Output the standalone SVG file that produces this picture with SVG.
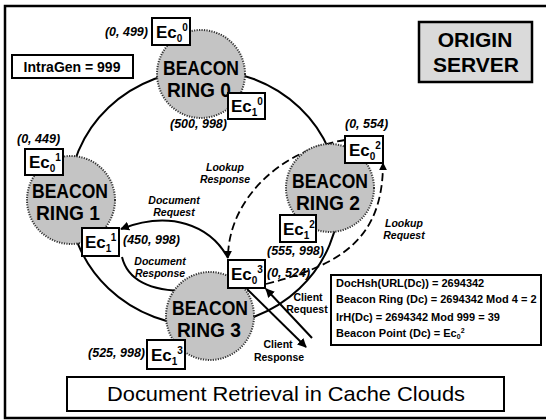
<svg xmlns="http://www.w3.org/2000/svg" width="546" height="420" viewBox="0 0 546 420">
<defs>
<style>
.frame{fill:#fff;stroke:#000;stroke-width:2.5}
.box{fill:#fff;stroke:#000;stroke-width:2}
.ring{fill:#c4c4c4;stroke:#333;stroke-width:2;stroke-dasharray:1.2 1.3}
.big{fill:none;stroke:#000;stroke-width:2}
.sol{fill:none;stroke:#000;stroke-width:2}
.dash{fill:none;stroke:#000;stroke-width:1.8;stroke-dasharray:8 4}
.ec{font-family:"Liberation Sans",Arial,sans-serif;font-weight:bold;font-size:17px}
.ecs{font-size:10px}
.rt{font-family:"Liberation Sans",Arial,sans-serif;font-size:20px;font-weight:bold;text-anchor:middle}
.co{font-family:"Liberation Sans",Arial,sans-serif;font-weight:bold;font-style:italic;font-size:12.5px}
.lab{font-family:"Liberation Sans",Arial,sans-serif;font-weight:bold;font-style:italic;font-size:10.5px;text-anchor:middle}
.labu{font-family:"Liberation Sans",Arial,sans-serif;font-weight:bold;font-size:10.5px;text-anchor:middle}
.info{font-family:"Liberation Sans",Arial,sans-serif;font-weight:bold;font-size:11px}
</style>
<marker id="ah" viewBox="0 0 10 10" refX="9" refY="5" markerWidth="4.5" markerHeight="4.5" orient="auto" markerUnits="strokeWidth">
<path d="M0,0 L10,5 L0,10 z" fill="#000"/>
</marker>
</defs>
<rect class="frame" x="5" y="6" width="545" height="412"/>

<g id="connectors">
<ellipse class="big" cx="204" cy="198" rx="135" ry="128"/>
<path class="dash" d="M345,140 C280,150 228,200 228,258" marker-end="url(#ah)"/>
<path class="dash" d="M266,284 C340,265 383,240 383,163" marker-end="url(#ah)"/>
<path class="sol" d="M228,258 C210,225 170,210 121,229" marker-end="url(#ah)"/>
<path class="sol" d="M122,257 C130,290 170,296 226,288" marker-end="url(#ah)"/>
<path class="sol" d="M247,289 L306,347" marker-end="url(#ah)"/>
<path class="sol" d="M312,338 L266,289" marker-end="url(#ah)"/>
</g>

<g id="ring0"><circle class="ring" cx="201" cy="74" r="44"/>
<text class="rt" x="201" y="75" textLength="76" lengthAdjust="spacingAndGlyphs">BEACON</text>
<text class="rt" x="199" y="97" textLength="64" lengthAdjust="spacingAndGlyphs">RING 0</text></g>
<g id="ring1"><circle class="ring" cx="71" cy="200" r="44"/>
<text class="rt" x="70" y="198" textLength="76" lengthAdjust="spacingAndGlyphs">BEACON</text>
<text class="rt" x="68" y="220" textLength="64" lengthAdjust="spacingAndGlyphs">RING 1</text></g>
<g id="ring2"><circle class="ring" cx="330" cy="188" r="44"/>
<text class="rt" x="330" y="188" textLength="76" lengthAdjust="spacingAndGlyphs">BEACON</text>
<text class="rt" x="328" y="210" textLength="64" lengthAdjust="spacingAndGlyphs">RING 2</text></g>
<g id="ring3"><circle class="ring" cx="210" cy="316" r="44"/>
<text class="rt" x="210" y="315" textLength="76" lengthAdjust="spacingAndGlyphs">BEACON</text>
<text class="rt" x="209" y="337" textLength="64" lengthAdjust="spacingAndGlyphs">RING 3</text></g>

<g id="ec00"><rect class="box" x="152" y="18" width="38" height="27"/><text class="ec" x="156" y="38">Ec<tspan class="ecs" dy="4">0</tspan><tspan class="ecs" dy="-11">0</tspan></text></g>
<g id="ec10"><rect class="box" x="228" y="93" width="37" height="26"/><text class="ec" x="231" y="112">Ec<tspan class="ecs" dy="4">1</tspan><tspan class="ecs" dy="-11">0</tspan></text></g>
<g id="ec01"><rect class="box" x="25" y="149" width="38" height="26"/><text class="ec" x="29" y="168">Ec<tspan class="ecs" dy="4">0</tspan><tspan class="ecs" dy="-11">1</tspan></text></g>
<g id="ec11"><rect class="box" x="82" y="228" width="37" height="28"/><text class="ec" x="85" y="248">Ec<tspan class="ecs" dy="4">1</tspan><tspan class="ecs" dy="-11">1</tspan></text></g>
<g id="ec02"><rect class="box" x="345" y="136" width="38" height="27"/><text class="ec" x="349" y="156">Ec<tspan class="ecs" dy="4">0</tspan><tspan class="ecs" dy="-11">2</tspan></text></g>
<g id="ec12"><rect class="box" x="280" y="215" width="36" height="27"/><text class="ec" x="283" y="235">Ec<tspan class="ecs" dy="4">1</tspan><tspan class="ecs" dy="-11">2</tspan></text></g>
<g id="ec03"><rect class="box" x="228" y="260" width="37" height="28"/><text class="ec" x="231" y="280">Ec<tspan class="ecs" dy="4">0</tspan><tspan class="ecs" dy="-11">3</tspan></text></g>
<g id="ec13"><rect class="box" x="147" y="340" width="38" height="29"/><text class="ec" x="151" y="361">Ec<tspan class="ecs" dy="4">1</tspan><tspan class="ecs" dy="-11">3</tspan></text></g>

<g id="coords">
<text class="co" x="148" y="36" text-anchor="end">(0, 499)</text>
<text class="co" x="170" y="128">(500, 998)</text>
<text class="co" x="17" y="143">(0, 449)</text>
<text class="co" x="345" y="128">(0, 554)</text>
<text class="co" x="123" y="244">(450, 998)</text>
<text class="co" x="267" y="255">(555, 998)</text>
<text class="co" x="267" y="277">(0, 524)</text>
<text class="co" x="145" y="357" text-anchor="end">(525, 998)</text>
</g>

<g id="labels">
<text class="lab" x="225" y="171">Lookup</text><text class="lab" x="225" y="183">Response</text>
<text class="lab" x="174" y="204">Document</text><text class="lab" x="174" y="216">Request</text>
<text class="lab" x="160" y="265">Document</text><text class="lab" x="160" y="277">Response</text>
<text class="lab" x="404" y="227">Lookup</text><text class="lab" x="404" y="239">Request</text>
<text class="labu" x="308" y="301">Client</text><text class="labu" x="307" y="313">Request</text>
<text class="labu" x="278" y="348">Client</text><text class="labu" x="279" y="361">Response</text>
</g>

<g id="intragen"><rect class="box" x="12" y="55" width="121" height="23"/>
<text x="72" y="72" text-anchor="middle" font-family="Liberation Sans, Arial, sans-serif" font-weight="bold" font-size="14">IntraGen = 999</text></g>

<g id="origin"><rect x="419" y="22" width="113" height="60" fill="#dadada" stroke="#000" stroke-width="2.5"/>
<text x="475" y="47" text-anchor="middle" font-family="Liberation Sans, Arial, sans-serif" font-weight="bold" font-size="21">ORIGIN</text>
<text x="476" y="72" text-anchor="middle" font-family="Liberation Sans, Arial, sans-serif" font-weight="bold" font-size="21">SERVER</text></g>

<g id="info"><rect class="box" x="331" y="275" width="210" height="70"/>
<text class="info" x="336" y="287">DocHsh(URL(Dc)) = 2694342</text>
<text class="info" x="336" y="303">Beacon Ring (Dc) = 2694342 Mod 4 = 2</text>
<text class="info" x="336" y="321">IrH(Dc) = 2694342 Mod 999 = 39</text>
<text class="info" x="336" y="337">Beacon Point (Dc) = Ec<tspan font-size="7" dy="2">0</tspan><tspan font-size="7" dy="-6">2</tspan></text>
</g>

<g id="title"><rect class="box" x="67" y="377" width="437" height="34" stroke-width="2.5"/>
<text x="286" y="401" text-anchor="middle" font-family="Liberation Sans, Arial, sans-serif" font-size="21" textLength="358" lengthAdjust="spacingAndGlyphs">Document Retrieval in Cache Clouds</text></g>
</svg>
